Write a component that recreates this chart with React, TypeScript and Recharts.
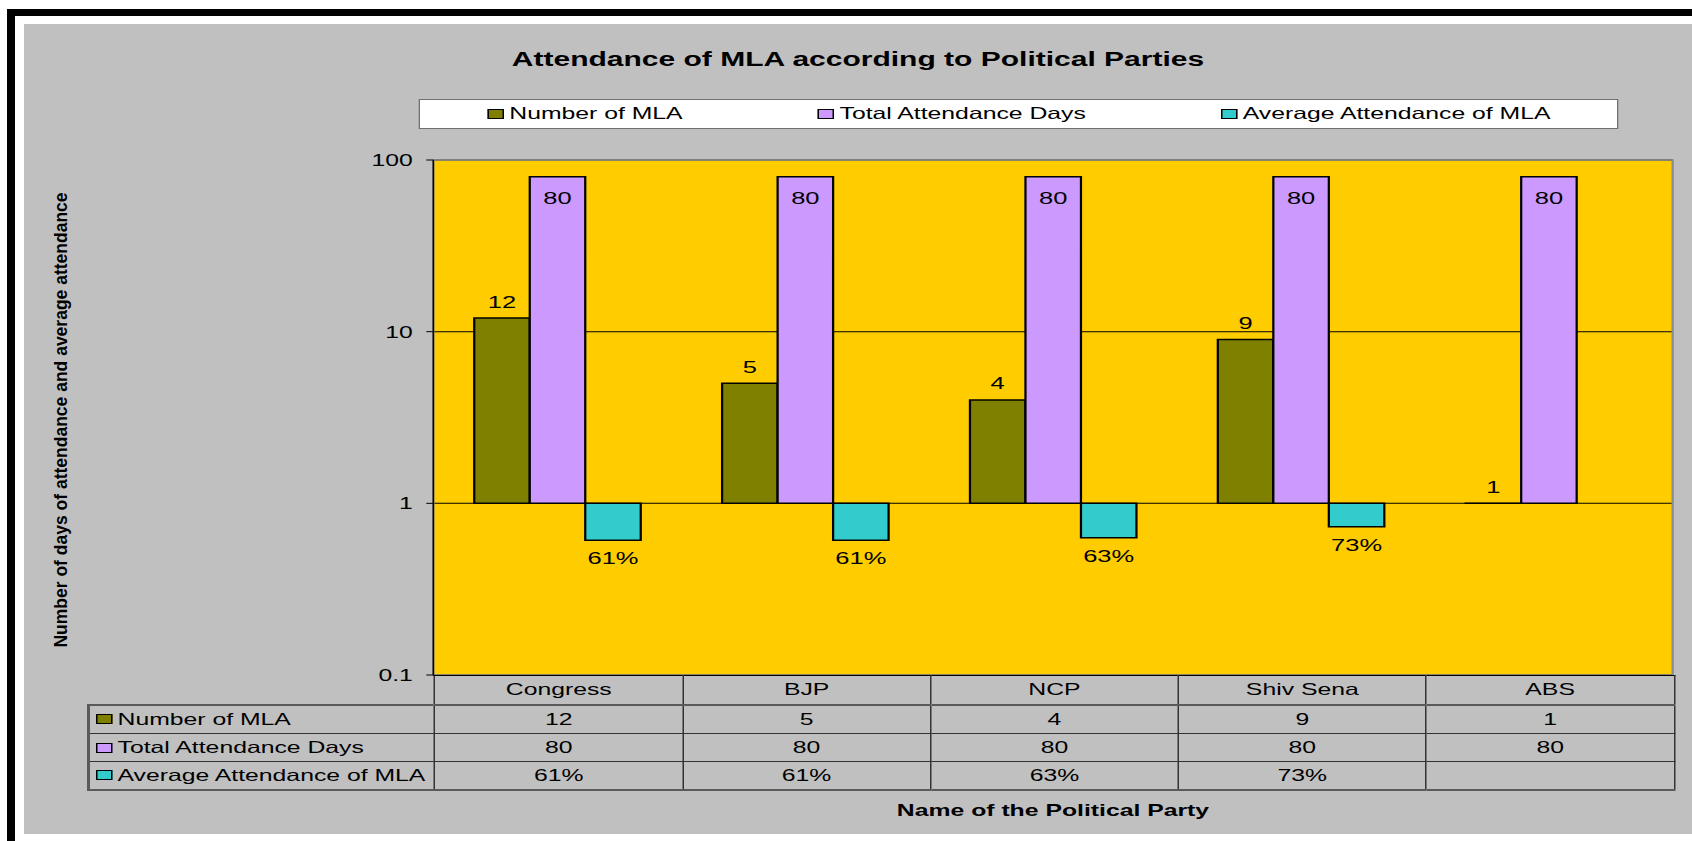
import React from "react";
import { Bar, BarChart, CartesianGrid, LabelList, ReferenceArea, XAxis, YAxis } from "recharts";

const parties = ["Congress", "BJP", "NCP", "Shiv Sena", "ABS"];
const mlaCount = [12, 5, 4, 9, 1];
const attendanceDays = [80, 80, 80, 80, 80];
const avgAttendance: (number | null)[] = [0.61, 0.61, 0.63, 0.73, null];
const yTicks = [0.1, 1, 10, 100];

const series = [
  { key: "mla", name: "Number of MLA", color: "#808000" },
  { key: "days", name: "Total Attendance Days", color: "#CC99FF" },
  { key: "avg", name: "Average Attendance of MLA", color: "#33CCCC" },
];

const rows = parties.map((party, i) => ({
  party,
  mla: mlaCount[i],
  days: attendanceDays[i],
  avg: avgAttendance[i],
}));

const pct = (v: any) => (v == null || v === "" ? "" : `${Math.round(Number(v) * 100)}%`);
const cellText: Record<string, (r: any) => string> = {
  mla: (r) => String(r.mla),
  days: (r) => String(r.days),
  avg: (r) => pct(r.avg),
};

const FONT = '"Liberation Sans", Arial, sans-serif';
// the original picture is stretched sideways; everything inside the wrapper is laid out unstretched
const STRETCH = 1.5;
const W = 1112;
const PLOT_L = 272.9;
const PLOT_R = 1099.1;
const PLOT_T = 136;
const PLOT_B = 651;
const AXIS_W = 60;
const TABLE_L = 42.2;

function Swatch({ color }: { color: string }) {
  return (
    <span
      style={{
        display: "inline-block",
        width: 11,
        height: 10,
        boxSizing: "border-box",
        border: "1.5px solid #000",
        background: color,
        marginRight: 3.6,
        flex: "none",
      }}
    />
  );
}

function LegendBox() {
  return (
    <div
      style={{
        position: "absolute",
        left: 263.3,
        top: 74.7,
        width: 800,
        height: 30.3,
        boxSizing: "border-box",
        background: "#fff",
        border: "1.5px solid #707070",
        display: "flex",
        alignItems: "center",
        justifyContent: "center",
        gap: 90,
        fontFamily: FONT,
        fontSize: 16.5,
      }}
    >
      {series.map((s) => (
        <div key={s.key} style={{ display: "flex", alignItems: "center", whiteSpace: "nowrap" }}>
          <Swatch color={s.color} />
          {s.name}
        </div>
      ))}
    </div>
  );
}

function DataTable() {
  const colW = (PLOT_R - PLOT_L) / parties.length;
  const thin = "1px solid #333";
  const heavy = "2px solid #5a5a5a";
  const heights = [29, 28, 28];
  return (
    <table
      style={{
        position: "absolute",
        left: TABLE_L,
        top: PLOT_B,
        width: PLOT_R - TABLE_L,
        borderCollapse: "collapse",
        tableLayout: "fixed",
        fontFamily: FONT,
        fontSize: 16.5,
        color: "#000",
      }}
    >
      <colgroup>
        <col style={{ width: PLOT_L - TABLE_L }} />
        {parties.map((p) => (
          <col key={p} style={{ width: colW }} />
        ))}
      </colgroup>
      <tbody>
        <tr style={{ height: 29 }}>
          <td style={{ border: "none", padding: 0 }} />
          {parties.map((p) => (
            <td
              key={p}
              style={{
                borderTop: "1px solid #000",
                borderLeft: thin,
                borderRight: thin,
                borderBottom: heavy,
                textAlign: "center",
                padding: 0,
              }}
            >
              {p}
            </td>
          ))}
        </tr>
        {series.map((s, si) => (
          <tr key={s.key} style={{ height: heights[si] }}>
            <td
              style={{
                borderLeft: heavy,
                borderTop: si === 0 ? heavy : thin,
                borderRight: thin,
                borderBottom: si === series.length - 1 ? heavy : thin,
                padding: "0 0 0 3.6px",
              }}
            >
              <div style={{ display: "flex", alignItems: "center", whiteSpace: "nowrap" }}>
                <Swatch color={s.color} />
                {s.name}
              </div>
            </td>
            {rows.map((r) => (
              <td
                key={r.party}
                style={{
                  border: thin,
                  borderBottom: si === series.length - 1 ? heavy : thin,
                  textAlign: "center",
                  padding: 0,
                }}
              >
                {cellText[s.key](r)}
              </td>
            ))}
          </tr>
        ))}
      </tbody>
    </table>
  );
}

export default function App() {
  const labelStyle = { fill: "#000", fontSize: 17, fontFamily: FONT };
  return (
    <div style={{ position: "fixed", left: 0, top: 0, width: 1692, height: 841, background: "#fff", overflow: "hidden" }}>
      <div
        style={{
          position: "absolute",
          left: 7,
          top: 9,
          width: 1685,
          height: 832,
          boxSizing: "border-box",
          borderTop: "7.7px solid #000",
          borderLeft: "8.3px solid #000",
        }}
      />
      <div style={{ position: "absolute", left: 24, top: 24, width: 1668, height: 810, background: "#C0C0C0" }}>
        <svg style={{ position: "absolute", left: 0, top: 0 }} width={100} height={810}>
          <text
            transform="translate(42.7, 396) rotate(-90)"
            textAnchor="middle"
            fontFamily={FONT}
            fontWeight="bold"
            fontSize={17.5}
            fill="#000"
          >
            Number of days of attendance and average attendance
          </text>
        </svg>
        <div
          style={{
            position: "absolute",
            left: 0,
            top: 0,
            width: W,
            height: 810,
            transform: `scaleX(${STRETCH})`,
            transformOrigin: "0 0",
          }}
        >
          <div
            style={{
              position: "absolute",
              left: 0,
              top: 23,
              width: W,
              textAlign: "center",
              fontFamily: FONT,
              fontWeight: "bold",
              fontSize: 20,
              lineHeight: "24px",
            }}
          >
            Attendance of MLA according to Political Parties
          </div>
          <LegendBox />
          <div style={{ position: "absolute", left: 0, top: 0 }}>
            <BarChart
              width={W}
              height={PLOT_B + 20}
              data={rows}
              margin={{ top: PLOT_T, right: W - PLOT_R, bottom: 20, left: PLOT_L - AXIS_W }}
              barCategoryGap="16.5%"
              barGap={0}
              style={{ fontFamily: FONT }}
            >
              <CartesianGrid vertical={false} stroke="#000" fill="#FFCC00" fillOpacity={1} />
              <ReferenceArea y1={0.1} y2={100} fill="none" stroke="#8c8c8c" strokeWidth={1.5} />
              <XAxis dataKey="party" hide />
              <YAxis
                width={AXIS_W}
                scale="log"
                type="number"
                domain={[0.1, 100]}
                ticks={yTicks}
                interval={0}
                allowDataOverflow
                tickFormatter={(v) => String(v)}
                tick={{ fill: "#000", fontSize: 16.5, fontFamily: FONT }}
                axisLine={{ stroke: "#000" }}
                tickLine={{ stroke: "#000" }}
                tickSize={4.7}
                tickMargin={9}
              />
              <Bar
                name="Number of MLA"
                dataKey={(d: any) => [1, d.mla]}
                fill="#808000"
                stroke="#000"
                strokeWidth={1.5}
                minPointSize={0.01}
                isAnimationActive={false}
              >
                <LabelList dataKey="mla" position="top" offset={10.5} {...labelStyle} />
              </Bar>
              <Bar
                name="Total Attendance Days"
                dataKey={(d: any) => [1, d.days]}
                fill="#CC99FF"
                stroke="#000"
                strokeWidth={1.5}
                isAnimationActive={false}
              >
                <LabelList dataKey="days" position="insideTop" offset={15} {...labelStyle} />
              </Bar>
              <Bar
                name="Average Attendance of MLA"
                dataKey={(d: any) => (d.avg == null ? null : [1, d.avg])}
                fill="#33CCCC"
                stroke="#000"
                strokeWidth={1.5}
                isAnimationActive={false}
              >
                <LabelList dataKey="avg" position="top" offset={12} formatter={pct} {...labelStyle} />
              </Bar>
            </BarChart>
          </div>
          <DataTable />
          <div
            style={{
              position: "absolute",
              left: PLOT_L,
              top: 776,
              width: PLOT_R - PLOT_L,
              textAlign: "center",
              fontFamily: FONT,
              fontWeight: "bold",
              fontSize: 16.5,
              lineHeight: "20px",
            }}
          >
            Name of the Political Party
          </div>
        </div>
      </div>
    </div>
  );
}
